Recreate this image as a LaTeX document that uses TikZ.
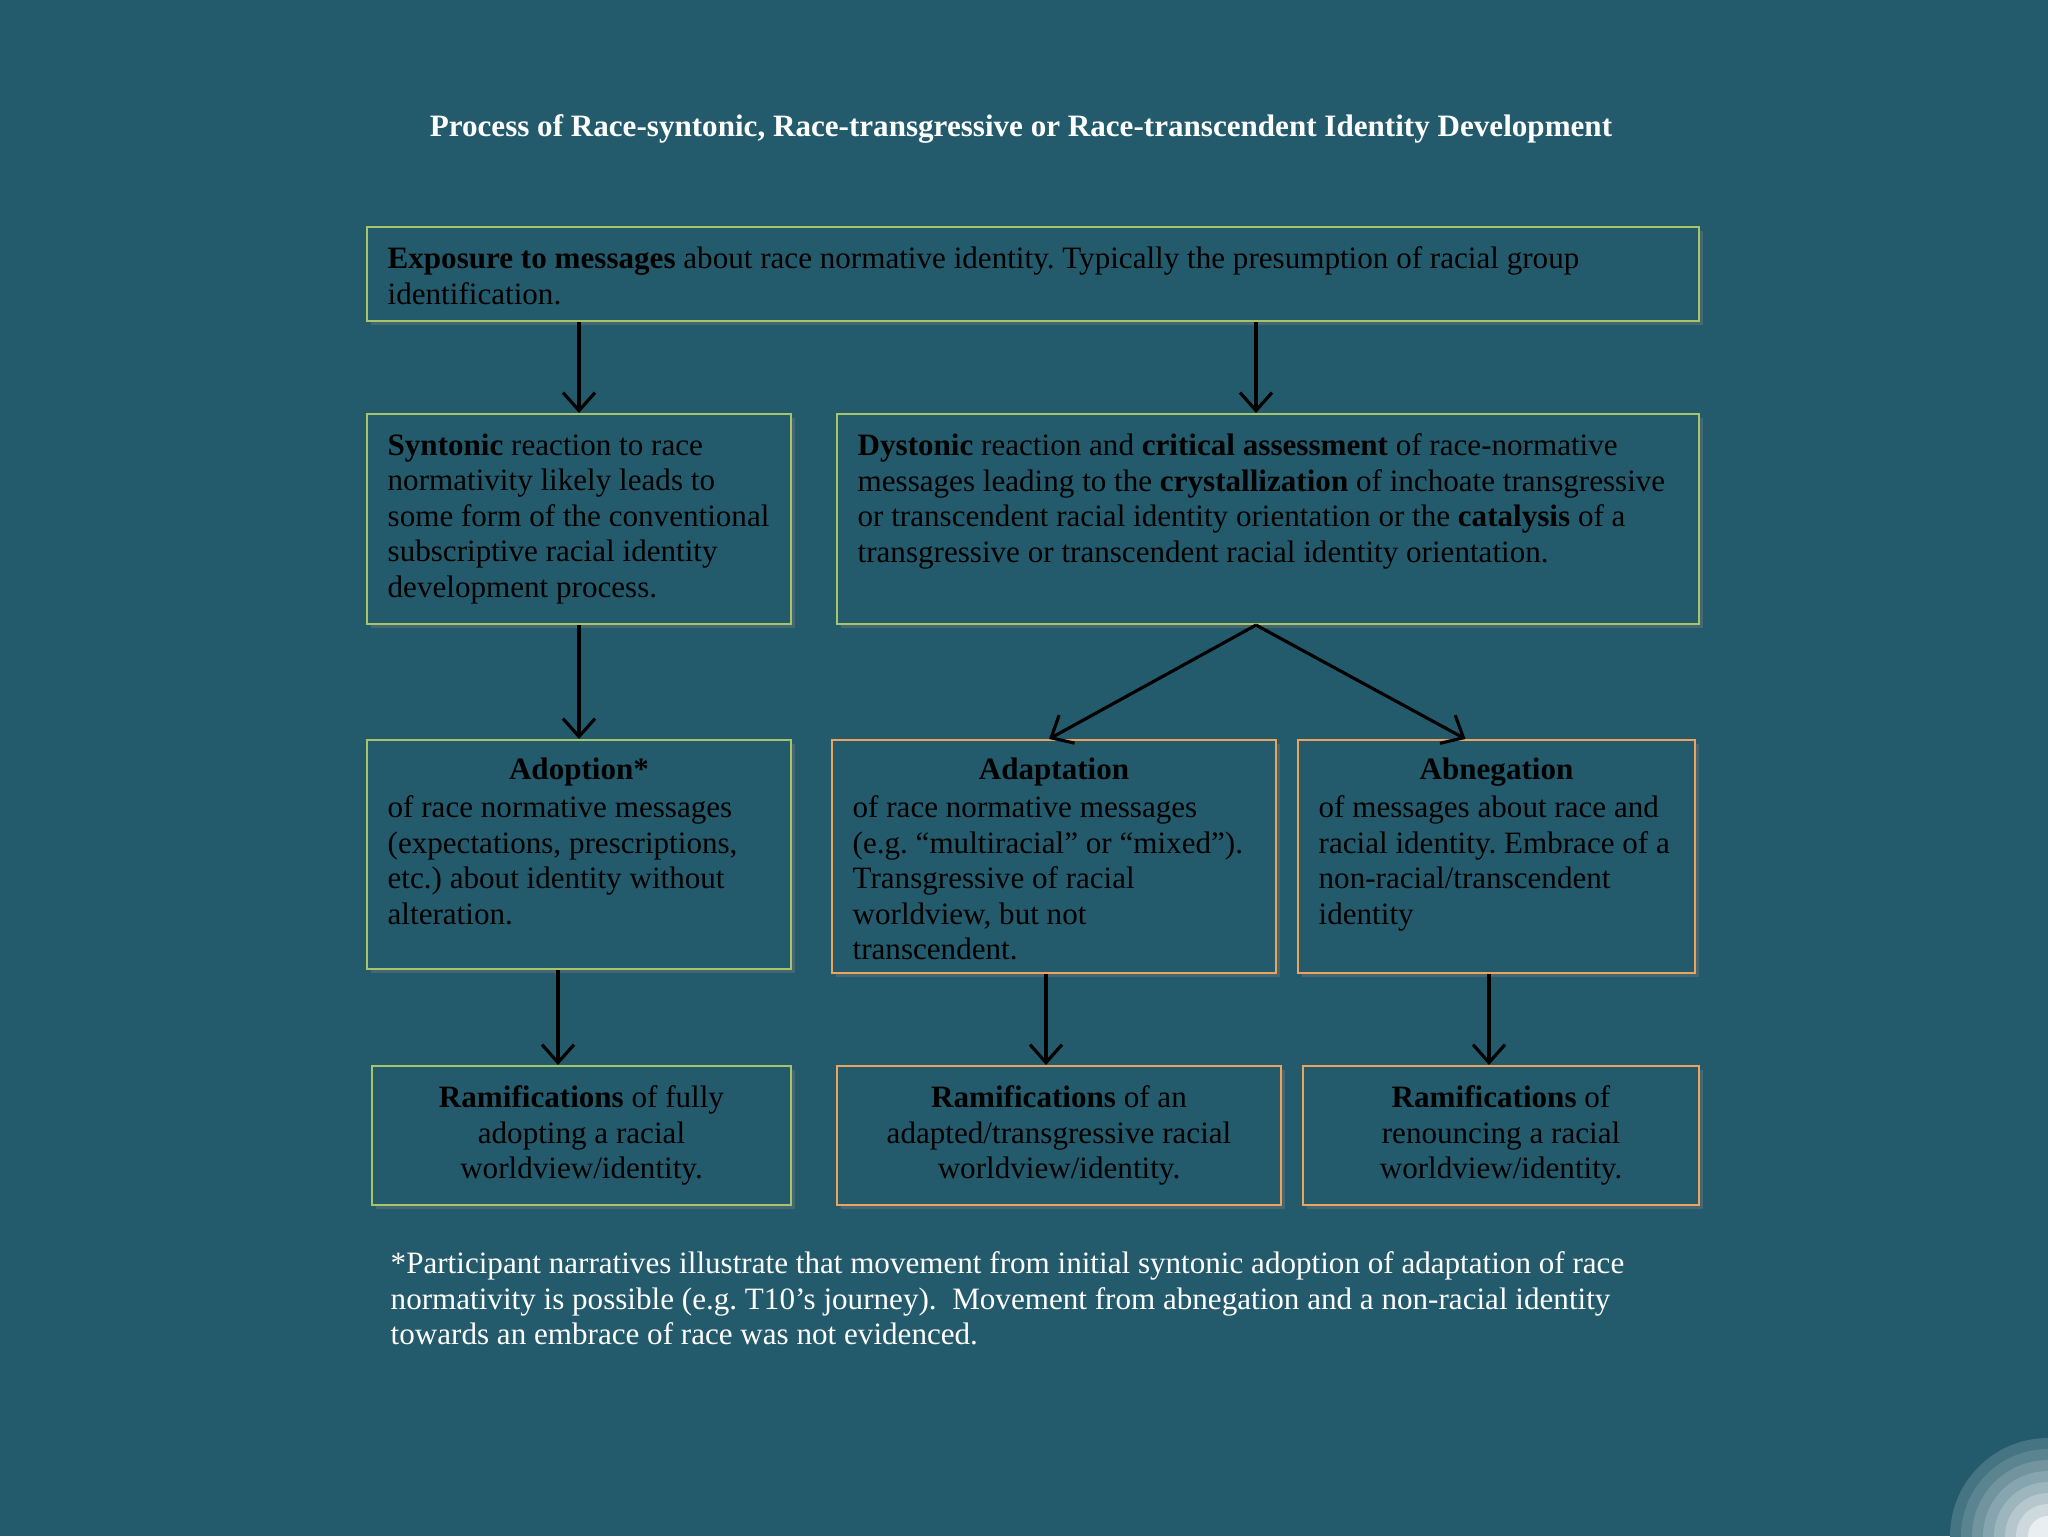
\documentclass[tikz,border=0pt]{standalone}
\usepackage{fontspec}
\setmainfont{Liberation Serif}
\usetikzlibrary{arrows.meta,shadows,fit}

\definecolor{bgteal}{HTML}{245B6C}
\definecolor{boxgreen}{HTML}{A6C46A}
\definecolor{boxorange}{HTML}{EBA35E}

\newcommand{\bodysize}{\fontsize{8.85}{10.1}\selectfont}
\newcommand{\headsize}{\fontsize{8.85}{10.1}\selectfont}

\tikzset{
  panel/.style={fill=bgteal, line width=0.6pt, inner sep=0pt,
    drop shadow={shadow xshift=0.4mm, shadow yshift=-0.4mm, opacity=0.35}},
  greenbox/.style={panel, draw=boxgreen},
  orangebox/.style={panel, draw=boxorange},
  boxtext/.style={font=\bodysize, align=left, inner sep=0pt, anchor=north west, execute at begin node=\strut},
  boxhead/.style={font=\bodysize\bfseries, inner sep=0pt, anchor=north, execute at begin node=\strut},
  ramtext/.style={font=\bodysize, align=center, inner sep=0pt, anchor=north, execute at begin node=\strut},
  arr/.style={line width=0.9pt, -{Straight Barb[length=1.8mm, width=3.2mm]}},
}

\begin{document}
\frenchspacing
\begin{tikzpicture}[x=0.1mm, y=-0.1mm]

  \fill[bgteal] (0,0) rectangle (2048,1536);
  \useasboundingbox (0,0) rectangle (2048,1536);

  % corner rings
  \begin{scope}
    \clip (0,0) rectangle (2048,1536);
    \foreach \r/\w in {9.8/15, 8.7/25, 7.6/35, 6.5/45, 5.4/55, 4.3/66, 3.2/77, 2.0/90}
      \fill[white!\w!bgteal] (2048,1536) circle (\r mm);
  \end{scope}

  \node[font=\headsize\bfseries, text=white] (title) at (1021,129)
    {Process of Race-syntonic, Race-transgressive or Race-transcendent Identity Development};

  % boxes
  \node[greenbox, fit={(367,227) (1699,321)}] (expo) {};
  \node[greenbox, fit={(367,414) (791,624)}] (syn) {};
  \node[greenbox, fit={(837,414) (1699,624)}] (dys) {};
  \node[greenbox, fit={(367,740) (791,969)}] (adop) {};
  \node[orangebox, fit={(832,740) (1276,973)}] (adap) {};
  \node[orangebox, fit={(1298,740) (1695,973)}] (abn) {};
  \node[greenbox, fit={(372,1066) (791,1205)}] (ram1) {};
  \node[orangebox, fit={(837,1066) (1281,1205)}] (ram2) {};
  \node[orangebox, fit={(1303,1066) (1699,1205)}] (ram3) {};

  % texts
  \node[boxtext] (expotxt) at ([shift={(21,20)}]expo.north west)
    {\textbf{Exposure to messages} about race normative identity. Typically the presumption of racial group\\
     identification.};
  \node[boxtext] (syntxt) at ([shift={(21,20)}]syn.north west)
    {\textbf{Syntonic} reaction to race\\ normativity likely leads to\\ some form of the conventional\\
     subscriptive racial identity\\ development process.};
  \node[boxtext] (dystxt) at ([shift={(21,20)}]dys.north west)
    {\textbf{Dystonic} reaction and \textbf{critical assessment} of race-normative\\
     messages leading to the \textbf{crystallization} of inchoate transgressive\\
     or transcendent racial identity orientation or the \textbf{catalysis} of a\\
     transgressive or transcendent racial identity orientation.};

  \node[boxhead] (adophd) at ([shift={(0,15)}]adop.north) {Adoption*};
  \node[boxtext] (adoptxt) at ([shift={(21,56)}]adop.north west)
    {of race normative messages\\ (expectations, prescriptions,\\ etc.) about identity without\\ alteration.};
  \node[boxhead] (adaphd) at ([shift={(0,15)}]adap.north) {Adaptation};
  \node[boxtext] (adaptxt) at ([shift={(21,56)}]adap.north west)
    {of race normative messages\\ (e.g. “multiracial” or “mixed”).\\ Transgressive of racial\\ worldview, but not\\ transcendent.};
  \node[boxhead] (abnhd) at ([shift={(0,15)}]abn.north) {Abnegation};
  \node[boxtext] (abntxt) at ([shift={(21,56)}]abn.north west)
    {of messages about race and\\ racial identity. Embrace of a\\ non-racial/transcendent\\ identity};

  \node[ramtext] (ram1txt) at ([shift={(0,20)}]ram1.north)
    {\textbf{Ramifications} of fully\\ adopting a racial\\ worldview/identity.};
  \node[ramtext] (ram2txt) at ([shift={(0,20)}]ram2.north)
    {\textbf{Ramifications} of an\\ adapted/transgressive racial\\ worldview/identity.};
  \node[ramtext] (ram3txt) at ([shift={(0,20)}]ram3.north)
    {\textbf{Ramifications} of\\ renouncing a racial\\ worldview/identity.};

  \node[boxtext, text=white] (note) at (390,1251)
    {*Participant narratives illustrate that movement from initial syntonic adoption of adaptation of race\\
     normativity is possible (e.g. T10’s journey).\ \ Movement from abnegation and a non-racial identity\\
     towards an embrace of race was not evidenced.};

  % arrows
  \draw[arr] (expo.south -| syn.north) -- (syn.north);
  \draw[arr] ([xshift=-1.2mm]expo.south -| dys.north) -- ([xshift=-1.2mm]dys.north);
  \draw[arr] (syn.south) -- (adop.north);
  \draw[arr] ([xshift=-1.2mm]dys.south) -- ([xshift=-0.5mm]adap.north);
  \draw[arr] ([xshift=-1.2mm]dys.south) -- ([xshift=-3.1mm]abn.north);
  \draw[arr] ([xshift=-2.1mm]adop.south) -- ([xshift=-2.1mm]adop.south |- ram1.north);
  \draw[arr] ([xshift=-0.8mm]adap.south) -- ([xshift=-0.8mm]adap.south |- ram2.north);
  \draw[arr] ([xshift=-0.75mm]abn.south) -- ([xshift=-0.75mm]abn.south |- ram3.north);

\end{tikzpicture}
\end{document}
